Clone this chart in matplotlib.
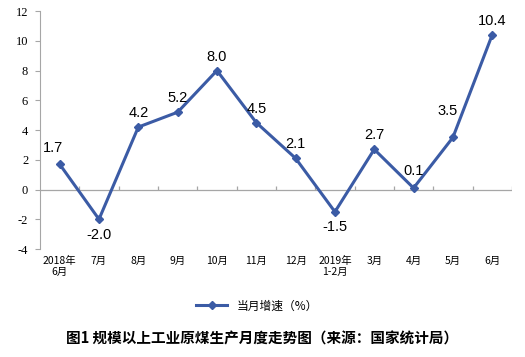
import matplotlib
matplotlib.use("Agg")
import matplotlib.pyplot as plt
import numpy as np

months = ["2018年\n6月", "7月", "8月", "9月", "10月", "11月", "12月",
          "2019年\n1-2月", "3月", "4月", "5月", "6月"]
growth = [1.7, -2.0, 4.2, 5.2, 8.0, 4.5, 2.1, -1.5, 2.7, 0.1, 3.5, 10.4]
# label offsets in points (dx, dy)
label_offsets = [(-5, 12), (0, -11), (0, 10), (0, 10), (0, 10), (0, 10), (0, 10),
                 (0, -11), (0, 10), (0, 12), (-4, 19), (0, 10)]

plt.rcParams['font.family'] = ['Noto Sans CJK SC', 'DejaVu Sans']

line_color = "#3B5BA5"
axis_color = "#A6A6A6"

fig = plt.figure(figsize=(5.25, 3.57), dpi=100, facecolor="w")
ax = fig.add_axes([0.0762, 0.3025, 0.8988, 0.6665])

x = np.arange(len(growth))
line, = ax.plot(x, growth, color=line_color, lw=2.2, marker="D", ms=4.5,
                label="当月增速（%）", zorder=3)

for xi, yi, (dx, dy) in zip(x, growth, label_offsets):
    ax.annotate(f"{yi:.1f}", (xi, yi), xytext=(dx, dy), textcoords="offset points",
                ha="center", va="center", fontsize=10.5, family="Liberation Sans",
                color="black")

ax.set_xlim(-0.5, len(growth) - 0.5)
ax.set_ylim(-4, 12)
ax.set_yticks(range(-4, 13, 2))
ax.set_yticklabels([str(v) for v in range(-4, 13, 2)], family="Liberation Serif",
                   fontsize=9)

ax.axhline(0, color=axis_color, lw=0.9, zorder=1)
ax.vlines(np.arange(0.5, len(growth)), 0, 0.27, color=axis_color, lw=0.9, zorder=1)

ax.set_xticks(x)
ax.set_xticklabels(months, fontsize=7.5, linespacing=1.15)
ax.tick_params(axis="x", length=0, pad=5)
ax.tick_params(axis="y", length=3.5, color=axis_color, direction="out", pad=5)

for s in ["top", "right", "bottom"]:
    ax.spines[s].set_visible(False)
ax.spines["left"].set_color(axis_color)

fig.legend(handles=[line], loc="center", bbox_to_anchor=(0.49, 0.143), frameon=False,
           fontsize=8.5, handlelength=2.6, markerscale=0.8)

fig.text(0.5, 0.053, "图1 规模以上工业原煤生产月度走势图（来源：国家统计局）",
         ha="center", va="center", fontsize=10.5, fontweight="bold")

fig.savefig("out.png", dpi=100)
